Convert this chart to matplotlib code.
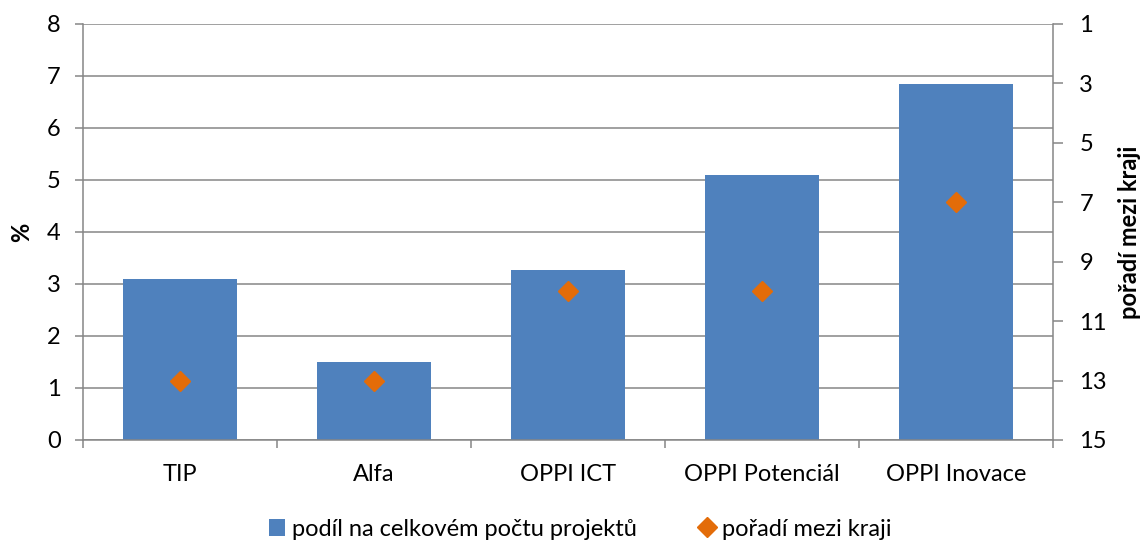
import numpy as np
import matplotlib
matplotlib.use("Agg")
import matplotlib.pyplot as plt
from matplotlib.lines import Line2D
from matplotlib.patches import Patch

plt.rcParams['font.family'] = ['Lato', 'DejaVu Sans']

programs = ['TIP', 'Alfa', 'OPPI ICT', 'OPPI Potenciál', 'OPPI Inovace']
share_pct = [3.1, 1.5, 3.27, 5.1, 6.85]
region_rank = [13, 13, 10, 10, 7]

bar_color = '#4F81BD'
rank_color = '#E36C09'
axis_gray = '#868686'
fs = 17

W, H = 1146, 543
fig = plt.figure(figsize=(W / 100, H / 100), dpi=100)
ax = fig.add_axes([83 / W, 1 - 440 / H, (1053 - 83) / W, (440 - 24) / H])

x = np.arange(len(programs))
ax.bar(x, share_pct, width=0.59, color=bar_color, zorder=2)
ax.set_xlim(-0.5, len(programs) - 0.5)
ax.set_ylim(0, 8)
ax.set_yticks(range(0, 9))
ax.grid(axis='y', color=axis_gray, linewidth=1.1, zorder=0)
ax.set_axisbelow(True)

# category labels in the middle, tick marks on the boundaries
ax.set_xticks(x)
ax.set_xticklabels(programs, fontsize=fs)
ax.set_xticks(np.arange(-0.5, len(programs)), minor=True)
ax.tick_params(axis='x', which='major', length=0, pad=17)
ax.tick_params(axis='x', which='minor', length=6, width=1.1, color=axis_gray)
ax.tick_params(axis='y', length=6, width=1.1, color=axis_gray, labelsize=fs, pad=10)
for side in ['top', 'right']:
    ax.spines[side].set_visible(False)
for side in ['left', 'bottom']:
    ax.spines[side].set_color(axis_gray)
    ax.spines[side].set_linewidth(1.1)
ax.set_ylabel('%', fontsize=fs, fontweight='bold', labelpad=10)

# rank on an inverted secondary axis
ax2 = ax.twinx()
ax2.plot(x, region_rank, linestyle='none', marker='D', markersize=10,
         color=rank_color, zorder=3)
ax2.set_ylim(15, 1)
ax2.set_yticks(range(1, 16, 2))
ax2.tick_params(axis='y', length=7, width=1.1, color=axis_gray, labelsize=fs, pad=12)
for side in ['top', 'left', 'bottom']:
    ax2.spines[side].set_visible(False)
ax2.spines['right'].set_color(axis_gray)
ax2.spines['right'].set_linewidth(1.1)
ax2.set_ylabel('pořadí mezi kraji', fontsize=fs, fontweight='bold', labelpad=8)

handles = [
    Patch(facecolor=bar_color, label='podíl na celkovém počtu projektů'),
    Line2D([], [], linestyle='none', marker='D', markersize=10, color=rank_color,
           label='pořadí mezi kraji'),
]
fig.legend(handles=handles, loc='center', bbox_to_anchor=(580 / W, 1 - 529 / H),
           ncol=2, frameon=False, fontsize=fs, handlelength=0.7, handleheight=0.7,
           handletextpad=0.3, columnspacing=2.6, borderpad=0)

fig.savefig('out.png', dpi=100)
